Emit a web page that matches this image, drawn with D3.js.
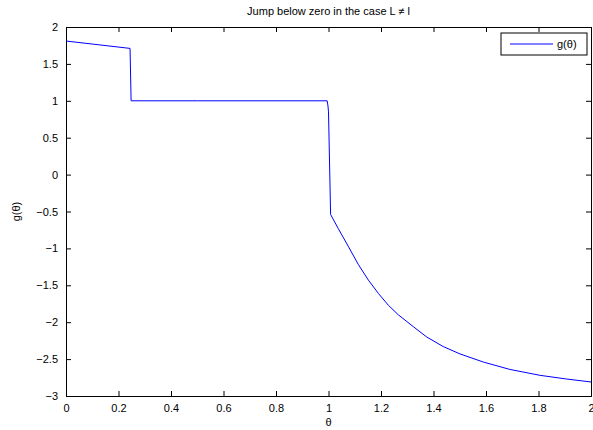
<!DOCTYPE html>
<html>
<head>
<meta charset="utf-8">
<script src="https://cdn.jsdelivr.net/npm/d3@7"></script>
<style>
  body { margin: 0; background: #fff; }
  text { font-family: "Liberation Sans", Arial, sans-serif; }
</style>
</head>
<body>
<div id="chart"></div>
<script>
// g(theta)
const theta = [0, 0.244, 0.248, 0.5, 0.995, 0.998, 1.0, 1.008,
               1.037, 1.075, 1.114, 1.152, 1.19, 1.228, 1.266, 1.323, 1.374,
               1.437, 1.501, 1.59, 1.691, 1.806, 1.907, 2.0];
const gVals = [1.81, 1.71, 1.0, 1.0, 1.0, 0.93, 0.85, -0.54,
               -0.73, -0.97, -1.22, -1.43, -1.61, -1.77, -1.9, -2.06, -2.2,
               -2.33, -2.43, -2.54, -2.64, -2.72, -2.77, -2.81];

const xTicks = [0, 0.2, 0.4, 0.6, 0.8, 1, 1.2, 1.4, 1.6, 1.8, 2];
const yTicks = [-3, -2.5, -2, -1.5, -1, -0.5, 0, 0.5, 1, 1.5, 2];

const margin = { top: 27, right: 2, bottom: 34, left: 66 },
      width = 593 - margin.left - margin.right,
      height = 430 - margin.top - margin.bottom;

const svg = d3.select("#chart")
  .append("svg")
  .attr("width", 593)
  .attr("height", 430);

const g = svg.append("g")
  .attr("transform", `translate(${margin.left},${margin.top})`);

const x = d3.scaleLinear().domain([0, 2]).range([0, width]);
const y = d3.scaleLinear().domain([-3, 2]).range([height, 0]);

const fmt = d => (d < 0 ? "\u2212" + Math.abs(d) : String(d));

// axes, ticks point inward like MATLAB
g.append("g")
  .attr("transform", `translate(0,${height})`)
  .call(d3.axisBottom(x).tickValues(xTicks).tickSize(-5).tickPadding(8).tickFormat(fmt));
g.append("g")
  .call(d3.axisLeft(y).tickValues(yTicks).tickSize(-5).tickPadding(8).tickFormat(fmt));
g.append("g")
  .call(d3.axisTop(x).tickValues(xTicks).tickSize(-5).tickFormat(""));
g.append("g")
  .attr("transform", `translate(${width},0)`)
  .call(d3.axisRight(y).tickValues(yTicks).tickSize(-5).tickFormat(""));

g.selectAll(".domain").attr("stroke", "#000");
g.selectAll(".tick line").attr("stroke", "#000");
g.selectAll(".tick text").attr("fill", "#000").style("font-size", "11px");

// data line
const pts = theta.map((t, i) => ({ t, v: gVals[i] }));
const line = d3.line().x(d => x(d.t)).y(d => y(d.v));
g.append("path")
  .datum(pts)
  .attr("fill", "none")
  .attr("stroke", "#0000ff")
  .attr("stroke-width", 1)
  .attr("d", line);

// title and labels
g.append("text")
  .attr("x", x(1))
  .attr("y", -12)
  .attr("text-anchor", "middle")
  .style("font-size", "11px")
  .text("Jump below zero in the case L \u2260 l");

g.append("text")
  .attr("x", x(1))
  .attr("y", height + 30)
  .attr("text-anchor", "middle")
  .style("font-size", "11px")
  .text("\u03b8");

g.append("text")
  .attr("transform", "rotate(-90)")
  .attr("x", -y(-0.5))
  .attr("y", -46)
  .attr("text-anchor", "middle")
  .style("font-size", "11px")
  .text("g(\u03b8)");

// legend
const legend = g.append("g")
  .attr("transform", `translate(${width - 90},6)`);
legend.append("rect")
  .attr("width", 86)
  .attr("height", 22)
  .attr("fill", "#fff")
  .attr("stroke", "#000");
legend.append("line")
  .attr("x1", 9).attr("x2", 52)
  .attr("y1", 11).attr("y2", 11)
  .attr("stroke", "#0000ff");
legend.append("text")
  .attr("x", 56)
  .attr("y", 15)
  .style("font-size", "11px")
  .text("g(\u03b8)");
</script>
</body>
</html>
